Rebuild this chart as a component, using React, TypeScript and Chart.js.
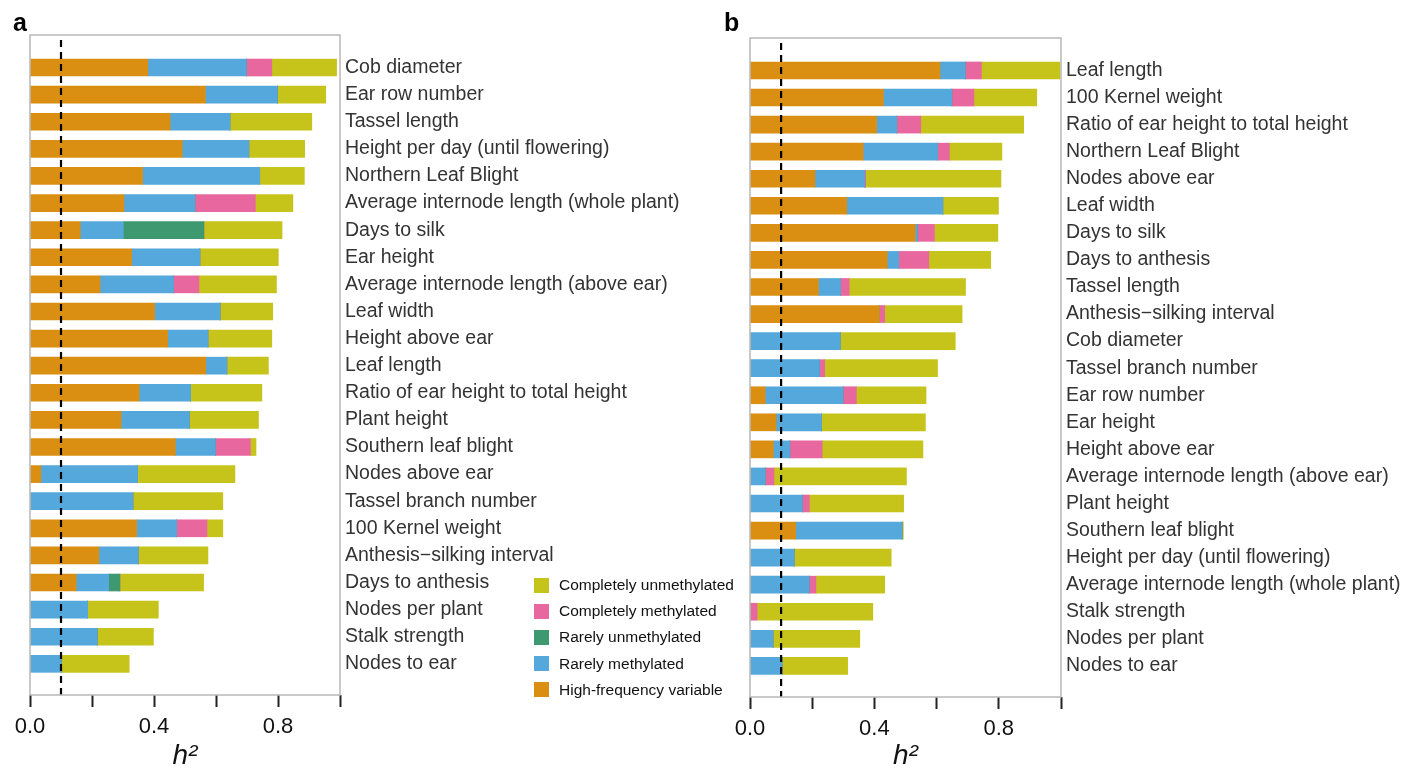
import React, { useEffect, useRef } from "react";
import { Chart, registerables } from "chart.js";

Chart.register(...registerables);

const FONT = '"Liberation Sans", Arial, Helvetica, sans-serif';

// Stack order (left to right)
const seriesNames = [
  "High-frequency variable",
  "Rarely methylated",
  "Rarely unmethylated",
  "Completely methylated",
  "Completely unmethylated",
];
const seriesColors = ["#DA8F12", "#55A8DB", "#3E9870", "#E8679E", "#C6C41B"];

// Panel a
const traitsA = [
  "Cob diameter",
  "Ear row number",
  "Tassel length",
  "Height per day (until flowering)",
  "Northern Leaf Blight",
  "Average internode length (whole plant)",
  "Days to silk",
  "Ear height",
  "Average internode length (above ear)",
  "Leaf width",
  "Height above ear",
  "Leaf length",
  "Ratio of ear height to total height",
  "Plant height",
  "Southern leaf blight",
  "Nodes above ear",
  "Tassel branch number",
  "100 Kernel weight",
  "Anthesis\u2212silking interval",
  "Days to anthesis",
  "Nodes per plant",
  "Stalk strength",
  "Nodes to ear",
];
const highFreqA = [0.380, 0.566, 0.452, 0.491, 0.363, 0.303, 0.162, 0.328, 0.226, 0.402, 0.444, 0.567, 0.352, 0.294, 0.469, 0.035, 0, 0.344, 0.222, 0.149, 0, 0, 0];
const rarelyMethA = [0.318, 0.232, 0.193, 0.215, 0.378, 0.229, 0.139, 0.220, 0.237, 0.211, 0.130, 0.068, 0.166, 0.220, 0.129, 0.312, 0.332, 0.129, 0.127, 0.105, 0.186, 0.217, 0.101];
const rarelyUnmethA = [0, 0, 0, 0, 0, 0, 0.260, 0, 0, 0, 0, 0, 0, 0, 0, 0, 0, 0, 0, 0.036, 0, 0, 0];
const complMethA = [0.082, 0, 0, 0, 0, 0.195, 0, 0, 0.082, 0, 0, 0, 0, 0, 0.113, 0, 0, 0.098, 0, 0, 0, 0, 0];
const complUnmethA = [0.209, 0.156, 0.264, 0.180, 0.144, 0.121, 0.252, 0.253, 0.250, 0.170, 0.206, 0.134, 0.230, 0.223, 0.018, 0.314, 0.290, 0.051, 0.225, 0.270, 0.228, 0.181, 0.219];

// Panel b
const traitsB = [
  "Leaf length",
  "100 Kernel weight",
  "Ratio of ear height to total height",
  "Northern Leaf Blight",
  "Nodes above ear",
  "Leaf width",
  "Days to silk",
  "Days to anthesis",
  "Tassel length",
  "Anthesis\u2212silking interval",
  "Cob diameter",
  "Tassel branch number",
  "Ear row number",
  "Ear height",
  "Height above ear",
  "Average internode length (above ear)",
  "Plant height",
  "Southern leaf blight",
  "Height per day (until flowering)",
  "Average internode length (whole plant)",
  "Stalk strength",
  "Nodes per plant",
  "Nodes to ear",
];
const highFreqB = [0.611, 0.429, 0.407, 0.364, 0.209, 0.311, 0.531, 0.441, 0.220, 0.416, 0, 0, 0.049, 0.084, 0.075, 0, 0, 0.147, 0, 0, 0, 0, 0];
const rarelyMethB = [0.081, 0.220, 0.065, 0.239, 0.160, 0.309, 0.007, 0.037, 0.071, 0, 0.290, 0.223, 0.250, 0.146, 0.053, 0.049, 0.168, 0.342, 0.142, 0.190, 0, 0.074, 0.103];
const rarelyUnmethB = [0, 0, 0, 0, 0, 0, 0, 0, 0, 0, 0, 0, 0, 0, 0, 0, 0, 0, 0, 0, 0, 0, 0];
const complMethB = [0.052, 0.071, 0.077, 0.038, 0.003, 0, 0.055, 0.097, 0.028, 0.017, 0, 0.017, 0.043, 0, 0.104, 0.028, 0.023, 0, 0, 0.022, 0.023, 0, 0];
const complUnmethB = [0.253, 0.202, 0.331, 0.169, 0.435, 0.179, 0.204, 0.199, 0.374, 0.249, 0.370, 0.363, 0.224, 0.334, 0.324, 0.426, 0.303, 0.004, 0.312, 0.221, 0.372, 0.279, 0.211];

const xTicks = [0, 0.2, 0.4, 0.6, 0.8, 1.0];
const xTickLabels = ["0.0", "", "0.4", "", "0.8", ""];
const thresholdH2 = 0.1;

// legend order top to bottom
const legendOrder = [4, 3, 2, 1, 0];

type PanelProps = {
  labels: string[];
  series: number[][];
  left: number;
  width: number;
  top: number;
  xAxisHeight: number;
  yAxisWidth: number;
};

const framePlugin = {
  id: "frameAndThreshold",
  afterDatasetsDraw(chart: any) {
    const { ctx, chartArea: ca, scales } = chart;
    const x = scales.x.getPixelForValue(thresholdH2);
    ctx.save();
    ctx.strokeStyle = "#000";
    ctx.lineWidth = 2.2;
    ctx.setLineDash([7, 5]);
    ctx.beginPath();
    ctx.moveTo(x, ca.top + 5);
    ctx.lineTo(x, ca.bottom);
    ctx.stroke();
    ctx.restore();
    ctx.save();
    ctx.strokeStyle = "#b8b8b8";
    ctx.lineWidth = 1.5;
    ctx.strokeRect(ca.left, ca.top, ca.right - ca.left, ca.bottom - ca.top);
    ctx.restore();
  },
};

function Panel({ labels, series, left, width, top, xAxisHeight, yAxisWidth }: PanelProps) {
  const ref = useRef<HTMLCanvasElement | null>(null);
  useEffect(() => {
    if (!ref.current) return;
    const n = labels.length;
    const datasets = seriesNames.map((name, k) => ({
      label: name,
      data: series[k].map((v, i) => ({ x: v, y: i })),
      backgroundColor: seriesColors[k],
      borderWidth: 0,
      barThickness: 17,
      stack: "h2",
    }));
    const chart = new Chart(ref.current, {
      type: "bar",
      data: { datasets } as any,
      options: {
        indexAxis: "y",
        animation: false,
        responsive: false,
        maintainAspectRatio: false,
        layout: { padding: { left: 30, top, right: 0, bottom: 0 } },
        plugins: { legend: { display: false }, tooltip: { enabled: false } },
        scales: {
          x: {
            type: "linear",
            stacked: true,
            min: 0,
            max: 1,
            border: { display: false },
            grid: {
              drawOnChartArea: false,
              drawTicks: true,
              tickLength: 12,
              tickWidth: 2,
              tickColor: "#222",
            },
            ticks: {
              stepSize: 0.2,
              autoSkip: false,
              maxRotation: 0,
              padding: 7,
              color: "#111",
              font: { family: FONT, size: 22 },
              callback: (v: any) => {
                const idx = xTicks.findIndex((t) => Math.abs(t - Number(v)) < 1e-6);
                return idx >= 0 ? xTickLabels[idx] : "";
              },
            },
            title: {
              display: true,
              text: "h\u00B2",
              color: "#111",
              font: { family: FONT, size: 28, style: "italic" },
              padding: { top: 0, bottom: -5 },
            },
            afterFit: (s: any) => {
              s.height = xAxisHeight;
            },
          },
          y: {
            type: "linear",
            reverse: true,
            offset: false,
            min: -1.2,
            max: n - 1 + 1.15,
            bounds: "data",
            position: "right",
            border: { display: false },
            grid: { display: false, drawTicks: false, offset: false },
            afterBuildTicks: (s: any) => {
              s.ticks = labels.map((_, i) => ({ value: i }));
            },
            ticks: {
              autoSkip: false,
              padding: 5,
              color: "#333",
              font: { family: FONT, size: 19.5 },
              callback: (v: any) => {
                const i = Number(v);
                return Number.isInteger(i) && i >= 0 && i < n ? labels[i] : "";
              },
            },
            afterFit: (s: any) => {
              s.width = yAxisWidth;
            },
          },
        },
      } as any,
      plugins: [framePlugin],
    });
    return () => chart.destroy();
  }, []);
  return (
    <canvas
      ref={ref}
      width={width}
      height={768}
      style={{ position: "absolute", left, top: 0, width, height: 768 }}
    />
  );
}

export default function App() {
  return (
    <div style={{ position: "absolute", left: 0, top: 0, width: 1419, height: 768, background: "#fff", overflow: "hidden" }}>
      <Panel
        labels={traitsA}
        series={[highFreqA, rarelyMethA, rarelyUnmethA, complMethA, complUnmethA]}
        left={0}
        width={715}
        top={35}
        xAxisHeight={73}
        yAxisWidth={375}
      />
      <Panel
        labels={traitsB}
        series={[highFreqB, rarelyMethB, rarelyUnmethB, complMethB, complUnmethB]}
        left={720}
        width={699}
        top={38}
        xAxisHeight={71}
        yAxisWidth={358}
      />
      <div style={{ position: "absolute", left: 13, top: 10, font: `bold 25px ${FONT}`, lineHeight: 1, color: "#000" }}>a</div>
      <div style={{ position: "absolute", left: 724, top: 10, font: `bold 25px ${FONT}`, lineHeight: 1, color: "#000" }}>b</div>
      <div style={{ position: "absolute", left: 534, top: 572 }}>
        {legendOrder.map((k) => (
          <div key={k} style={{ display: "flex", alignItems: "center", height: 26.2 }}>
            <span style={{ display: "inline-block", width: 15, height: 15, background: seriesColors[k], marginRight: 10 }} />
            <span style={{ font: `15.5px ${FONT}`, color: "#111", whiteSpace: "nowrap" }}>{seriesNames[k]}</span>
          </div>
        ))}
      </div>
    </div>
  );
}
